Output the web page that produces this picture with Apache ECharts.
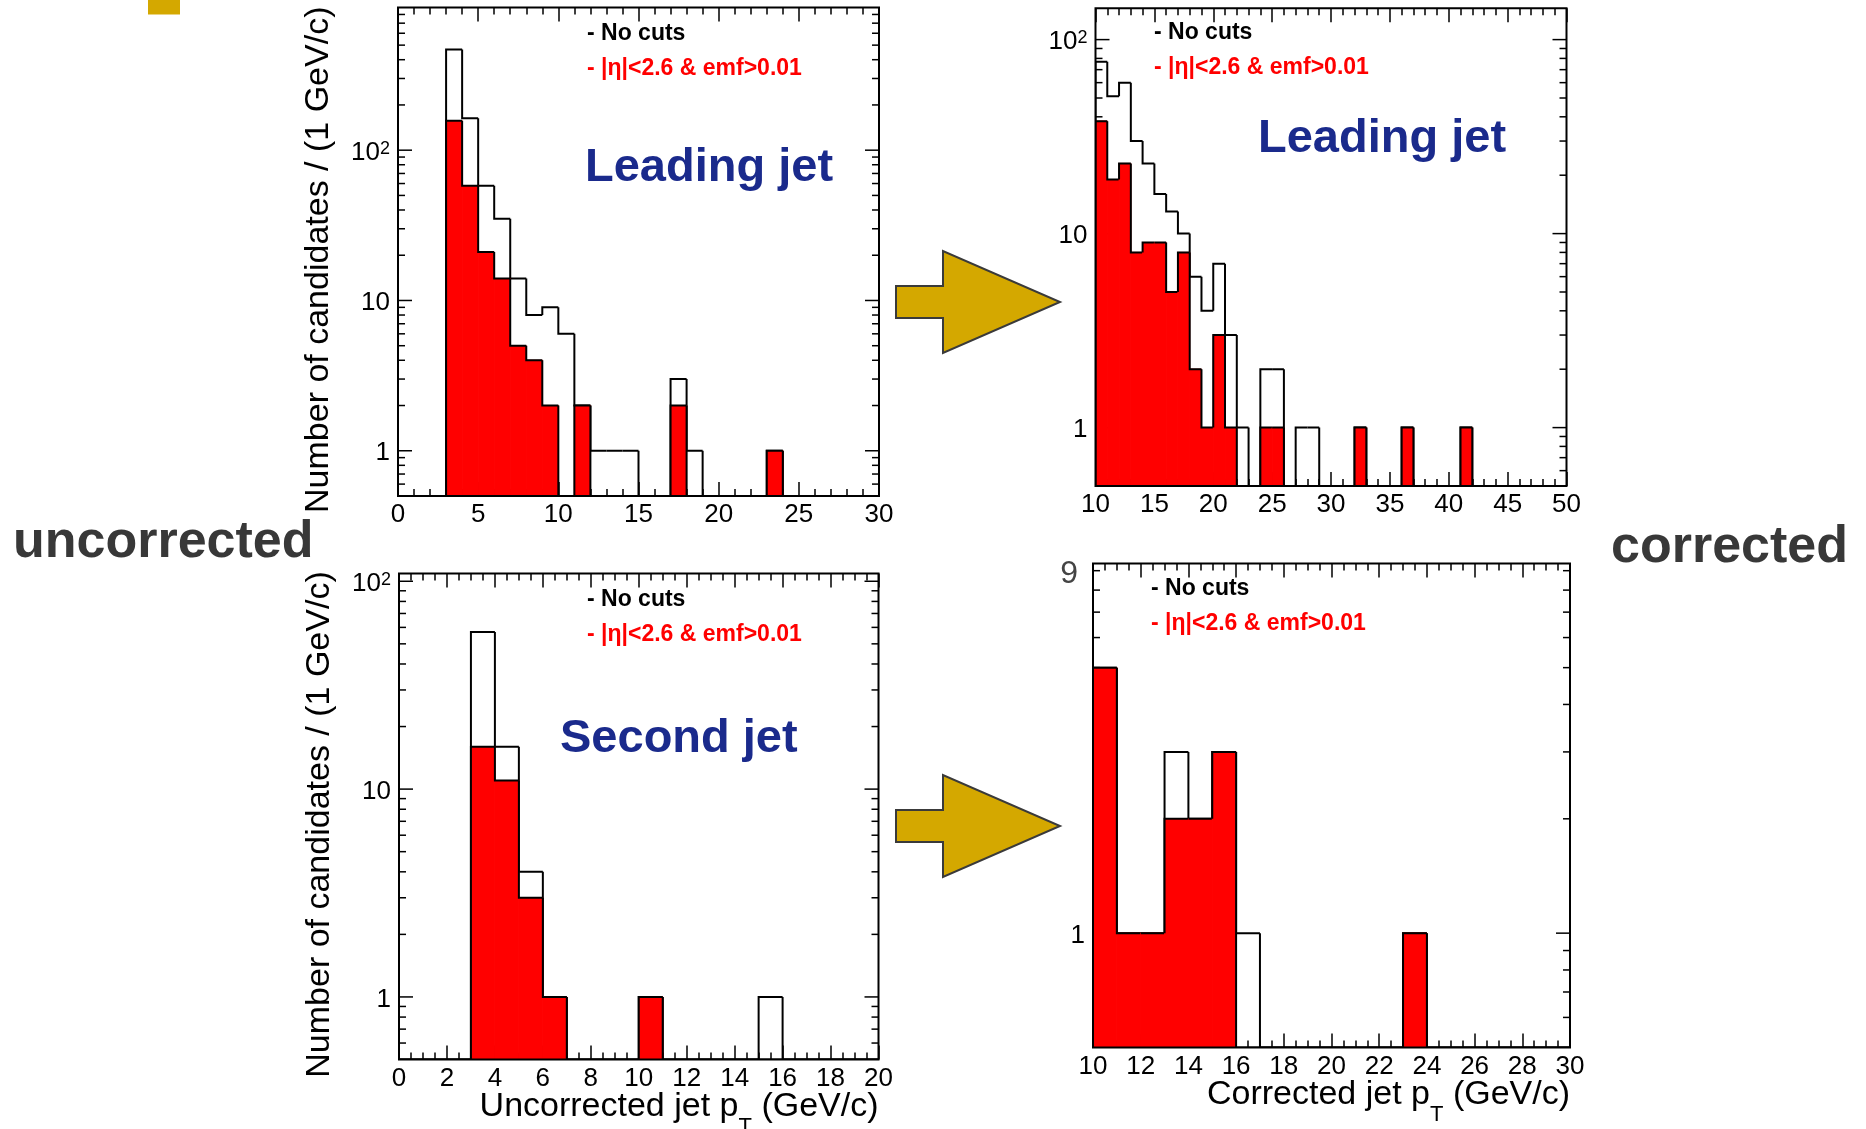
<!DOCTYPE html>
<html>
<head>
<meta charset="utf-8">
<script src="https://cdn.jsdelivr.net/npm/echarts@6/dist/echarts.min.js"></script>
<style>
html, body {margin: 0; padding: 0; background: #fff;}
#main {width: 1866px; height: 1129px;}
</style>
</head>
<body>
<div id="main"></div>
<script>
// candidates per 1 GeV/c bin, "all" = no cuts, "cut" = |eta|<2.6 & emf>0.01
var leadRawStart = 0;
var leadRawAll = [0, 0, 0, 468, 163, 58, 35, 14, 8, 9, 6, 2, 1, 1, 1, 0, 0, 3, 1, 0, 0, 0, 0, 1, 0, 0, 0, 0, 0, 0];
var leadRawCut = [0, 0, 0, 157, 58, 21, 14, 5, 4, 2, 0, 2, 0, 0, 0, 0, 0, 2, 0, 0, 0, 0, 0, 1, 0, 0, 0, 0, 0, 0];

var leadCorStart = 10;
var leadCorAll = [77, 51, 60, 30, 23, 16, 13, 10, 6, 4, 7, 3, 1, 0, 2, 2, 0, 1, 1, 0,
                  0, 0, 1, 0, 0, 0, 1, 0, 0, 0, 0, 1, 0, 0, 0, 0, 0, 0, 0, 0];
var leadCorCut = [38, 19, 23, 8, 9, 9, 5, 8, 2, 1, 3, 1, 0, 0, 1, 1, 0, 0, 0, 0,
                  0, 0, 1, 0, 0, 0, 1, 0, 0, 0, 0, 1, 0, 0, 0, 0, 0, 0, 0, 0];

var secRawStart = 0;
var secRawAll = [0, 0, 0, 57, 16, 4, 1, 0, 0, 0, 1, 0, 0, 0, 0, 1, 0, 0, 0, 0];
var secRawCut = [0, 0, 0, 16, 11, 3, 1, 0, 0, 0, 1, 0, 0, 0, 0, 0, 0, 0, 0, 0];

var secCorStart = 10;
var secCorAll = [5, 1, 1, 3, 2, 3, 1, 0, 0, 0, 0, 0, 0, 1, 0, 0, 0, 0, 0, 0];
var secCorCut = [5, 1, 1, 2, 2, 3, 0, 0, 0, 0, 0, 0, 0, 1, 0, 0, 0, 0, 0, 0];

// log axis ticks
var logMajorTicks = [1, 10, 100];
var logMinorTicks = [0.6, 0.7, 0.8, 0.9, 2, 3, 4, 5, 6, 7, 8, 9, 20, 30, 40, 50, 60, 70, 80, 90,
                     200, 300, 400, 500, 600, 700, 800];
var secCorExtraYLabels = [9];

var yMin = 0.5;
var FONT = "'Liberation Sans', Arial, Helvetica, sans-serif";
var RED = '#ff0000';
var BLUE = '#1a2a8c';
var GOLD = '#d4a800';

var panels = [
    {grid: {left: 398, top: 7.5, width: 481, height: 488.5}, xMin: 0, xMax: 30, xStep: 5, xSplit: 5, yMax: 890,
        start: leadRawStart, all: leadRawAll, cut: leadRawCut, yTitle: true, extra: []},
    {grid: {left: 1095.5, top: 8.3, width: 471, height: 477.7}, xMin: 10, xMax: 50, xStep: 5, xSplit: 5, yMax: 145,
        start: leadCorStart, all: leadCorAll, cut: leadCorCut, extra: []},
    {grid: {left: 399, top: 573.5, width: 479.5, height: 486}, xMin: 0, xMax: 20, xStep: 2, xSplit: 4, yMax: 109,
        start: secRawStart, all: secRawAll, cut: secRawCut, yTitle: true,
        xTitle: '{a|Uncorrected jet p}{sub|T}{a| (GeV/c)}', extra: []},
    {grid: {left: 1093, top: 563.5, width: 477, height: 484}, xMin: 10, xMax: 30, xStep: 2, xSplit: 4, yMax: 9.4,
        start: secCorStart, all: secCorAll, cut: secCorCut,
        xTitle: '{a|Corrected jet p}{sub|T}{a| (GeV/c)}', extra: secCorExtraYLabels}
];

var binData = function (start, counts) {
    return counts.map(function (c, i) {
        return [start + i, start + i + 1, c, i > 0 ? counts[i - 1] : 0];
    });
};

var histItem = function (fill) {
    return function (params, api) {
        var x0 = api.value(0), x1 = api.value(1);
        var c = Math.max(api.value(2), yMin), prev = Math.max(api.value(3), yMin);
        var tl = api.coord([x0, c]), tr = api.coord([x1, c]);
        var br = api.coord([x1, yMin]), pl = api.coord([x0, prev]);
        var children = [];
        if (fill && api.value(2) > 0) {
            children.push({type: 'rect', shape: {x: tl[0], y: tl[1], width: br[0] - tl[0], height: br[1] - tl[1]},
                style: {fill: fill, stroke: fill, lineWidth: 1}});
        }
        children.push({type: 'polyline', shape: {points: [pl, tl, tr]},
            style: {stroke: '#000', lineWidth: 2, fill: null}});
        return {type: 'group', children: children};
    };
};

var tickItem = function (p) {
    return function (params, api) {
        var v = api.value(1), len = api.value(2) ? 14 : 7;
        var l = api.coord([p.xMin, v]), r = api.coord([p.xMax, v]);
        var st = {stroke: '#000', lineWidth: 1.5};
        var children = [
            {type: 'line', shape: {x1: l[0], y1: l[1], x2: l[0] + len, y2: l[1]}, style: st},
            {type: 'line', shape: {x1: r[0] - len, y1: r[1], x2: r[0], y2: r[1]}, style: st}
        ];
        if (p.extra.indexOf(v) >= 0) {
            children.push({type: 'text', x: l[0] - 15, y: l[1] + 3,
                style: {text: String(v), align: 'right', verticalAlign: 'middle',
                    font: '32px ' + FONT, fill: '#444'}});
        }
        return {type: 'group', children: children};
    };
};

var tickData = function (p) {
    var out = [];
    logMajorTicks.forEach(function (v) { if (v > yMin && v < p.yMax) out.push([p.xMin, v, 1]); });
    logMinorTicks.forEach(function (v) { if (v > yMin && v < p.yMax) out.push([p.xMin, v, 0]); });
    return out;
};

var logLabel = function (v) {
    var lg = Math.log(v) / Math.LN10, e = Math.round(lg);
    if (Math.abs(lg - e) > 1e-6) return '';
    if (e === 0) return '1';
    if (e === 1) return '10';
    return '{b|10}{s|' + e + '}';
};

var option = {
    animation: false,
    backgroundColor: '#fff',
    textStyle: {fontFamily: FONT},
    grid: [], xAxis: [], yAxis: [], series: [],
    graphic: []
};

panels.forEach(function (p, i) {
    option.grid.push(Object.assign({show: true, borderColor: '#000', borderWidth: 2,
        backgroundColor: 'transparent', z: 10, containLabel: false, outerBoundsMode: 'none'}, p.grid));

    var tickStyle = {color: '#000', width: 1.5};
    var xBase = {
        type: 'value', gridIndex: i, min: p.xMin, max: p.xMax, interval: p.xStep,
        splitLine: {show: false}, axisLine: {show: false},
        axisTick: {inside: true, length: 14, lineStyle: tickStyle},
        minorTick: {show: true, splitNumber: p.xSplit, length: 7, lineStyle: tickStyle}
    };
    var xBottom = Object.assign({}, xBase, {
        position: 'bottom',
        axisLabel: {color: '#000', fontSize: 26, margin: 6, fontFamily: FONT}
    });
    if (p.xTitle) {
        xBottom.name = p.xTitle;
        xBottom.nameLocation = 'end';
        xBottom.nameGap = 0;
        xBottom.nameMoveOverlap = false;
        xBottom.nameTextStyle = {
            align: 'right', verticalAlign: 'top', padding: [30, 0, 0, 0],
            rich: {
                a: {fontSize: 34, lineHeight: 36, verticalAlign: 'top', color: '#000', fontFamily: FONT},
                sub: {fontSize: 22, lineHeight: 22, padding: [26, 0, 0, 0], verticalAlign: 'top',
                    color: '#000', fontFamily: FONT}
            }
        };
    }
    option.xAxis.push(xBottom);
    option.xAxis.push(Object.assign({}, xBase, {position: 'top', axisLabel: {show: false}}));

    var yAx = {
        type: 'log', logBase: 10, gridIndex: i, min: yMin, max: p.yMax,
        axisLine: {show: false}, axisTick: {show: false}, splitLine: {show: false},
        axisLabel: {
            color: '#000', fontSize: 26, margin: 8, fontFamily: FONT, formatter: logLabel,
            padding: [5, 0, 0, 0],
            rich: {
                b: {fontSize: 26, lineHeight: 26, color: '#000', fontFamily: FONT},
                s: {fontSize: 18, lineHeight: 18, verticalAlign: 'top', color: '#000', fontFamily: FONT}
            }
        }
    };
    if (p.yTitle) {
        yAx.name = 'Number of candidates / (1 GeV/c)';
        yAx.nameLocation = 'middle';
        yAx.nameGap = 62;
        yAx.nameTextStyle = {fontSize: 34, color: '#000', fontFamily: FONT, padding: [0, 16, 0, 0]};
    }
    option.yAxis.push(yAx);

    option.series.push({
        type: 'custom', name: 'ticks' + i, xAxisIndex: 2 * i, yAxisIndex: i, z: 1, silent: true,
        encode: {x: 0, y: 1}, renderItem: tickItem(p), data: tickData(p)
    });
    option.series.push({
        type: 'custom', name: 'No cuts', xAxisIndex: 2 * i, yAxisIndex: i, z: 2, clip: true, silent: true,
        encode: {x: [0, 1], y: 2}, renderItem: histItem(null), data: binData(p.start, p.all)
    });
    option.series.push({
        type: 'custom', name: 'cuts', xAxisIndex: 2 * i, yAxisIndex: i, z: 3, clip: true, silent: true,
        encode: {x: [0, 1], y: 2}, renderItem: histItem(RED), data: binData(p.start, p.cut)
    });
});

// legend texts and labels
var legendAt = [[587, 34, 69], [1154, 33, 68], [587, 600, 635], [1151, 589, 624]];
legendAt.forEach(function (l) {
    option.graphic.push({type: 'text', x: l[0], y: l[1], silent: true,
        style: {text: '- No cuts', fill: '#000', font: 'bold 23px ' + FONT, verticalAlign: 'middle'}});
    option.graphic.push({type: 'text', x: l[0], y: l[2], silent: true,
        style: {text: '- |\u03b7|<2.6 & emf>0.01', fill: RED, font: 'bold 23px ' + FONT, verticalAlign: 'middle'}});
});
var bigLabels = [['Leading jet', 585, 168], ['Leading jet', 1258, 139], ['Second jet', 560, 739]];
bigLabels.forEach(function (b) {
    option.graphic.push({type: 'text', x: b[1], y: b[2], silent: true,
        style: {text: b[0], fill: BLUE, font: 'bold 47px ' + FONT, verticalAlign: 'middle'}});
});
option.graphic.push({type: 'text', x: 13, y: 543, silent: true,
    style: {text: 'uncorrected', fill: '#383838', font: 'bold 52px ' + FONT, verticalAlign: 'middle'}});
option.graphic.push({type: 'text', x: 1611, y: 548, silent: true,
    style: {text: 'corrected', fill: '#383838', font: 'bold 52px ' + FONT, verticalAlign: 'middle'}});

// arrows
[0, 524].forEach(function (dy) {
    var pts = [[896, 286], [943, 286], [943, 251], [1060, 302], [943, 353], [943, 318], [896, 318]];
    option.graphic.push({type: 'polygon', silent: true,
        shape: {points: pts.map(function (q) { return [q[0], q[1] + dy]; })},
        style: {fill: GOLD, stroke: '#3a3a3a', lineWidth: 2}});
});
option.graphic.push({type: 'rect', silent: true, shape: {x: 148, y: -2, width: 32, height: 16.5},
    style: {fill: GOLD}});

var chart = echarts.init(document.getElementById('main'));
chart.setOption(option);
</script>
</body>
</html>
